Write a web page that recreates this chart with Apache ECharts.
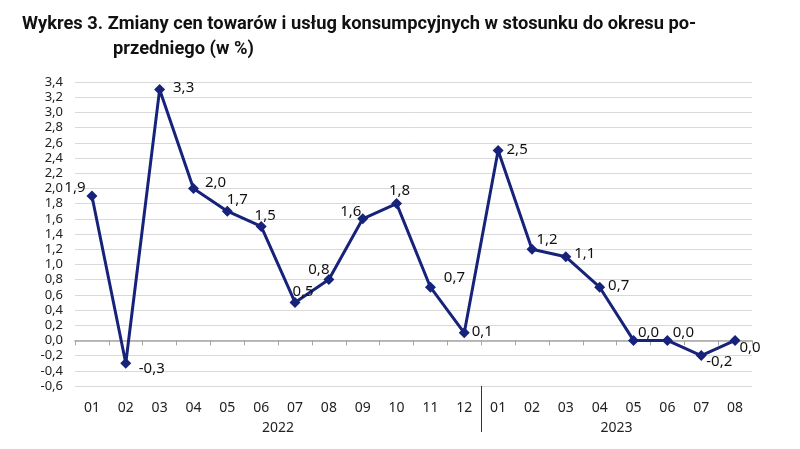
<!DOCTYPE html>
<html>
<head>
<meta charset="utf-8">
<script src="https://cdn.jsdelivr.net/npm/echarts@6/dist/echarts.min.js"></script>
<style>
html,body{margin:0;padding:0;background:#fff;}
#c{width:800px;height:449px;}
</style>
</head>
<body>
<div id="c"></div>
<script>
var months = ['01','02','03','04','05','06','07','08','09','10','11','12','01','02','03','04','05','06','07','08'];
var years = ['2022','2023'];
var yearCounts = [12, 8];
var values = [1.9,-0.3,3.3,2.0,1.7,1.5,0.5,0.8,1.6,1.8,0.7,0.1,2.5,1.2,1.1,0.7,0.0,0.0,-0.2,0.0];
var titleLine1 = 'Wykres 3. Zmiany cen towarów i usług konsumpcyjnych w stosunku do okresu po-';
var titleLine2 = 'przedniego (w %)';

var labelOffsets = [[-17,-8],[26,6],[24,-2],[22,-6],[10,-11],[4,-11],[8,-11],[-10,-10],[-12,-7],[3,-13],
  [24,-9],[18,-1],[19,-1],[15,-9],[19,-3],[19,-1],[15,-8],[16,-8],[18,6],[15,7]];

function fmt(v){ return v.toFixed(1).replace('.', ','); }

var chart = echarts.init(document.getElementById('c'), null, {renderer:'canvas'});
var dataItems = values.map(function(v,i){
  return {value:v, label:{offset:labelOffsets[i]}};
});
var titleStyle = {fontFamily:"'Roboto',sans-serif", fontWeight:'bold', fontSize:18.3, color:'#111'};
var option = {
  animation:false,
  backgroundColor:'#fff',
  title:[
    {text:titleLine1, left:17, top:10, textStyle:titleStyle},
    {text:titleLine2, left:108, top:35, textStyle:titleStyle}
  ],
  grid:{left:75, right:48, top:82, bottom:63},
  xAxis:[
    {type:'category', data:months, boundaryGap:true, position:'bottom',
     axisLine:{show:false, onZero:false}, axisTick:{show:false}, splitLine:{show:false},
     axisLabel:{color:'#222', fontSize:14, fontFamily:"'Noto Sans',sans-serif", margin:15}},
    {type:'category', data:months, boundaryGap:true, position:'bottom',
     axisLine:{show:true, onZero:true, lineStyle:{color:'#a6a6a6', width:1.5}},
     axisTick:{show:true, inside:false, length:5, alignWithLabel:false, lineStyle:{color:'#a6a6a6'}},
     axisLabel:{show:false}, splitLine:{show:false}}
  ],
  yAxis:{type:'value', min:-0.6, max:3.4, interval:0.2,
    axisLine:{show:false}, axisTick:{show:false},
    splitLine:{lineStyle:{color:'#d9d9d9', width:1}},
    axisLabel:{color:'#222', fontSize:13, fontFamily:"'Noto Sans',sans-serif", margin:12, formatter:fmt}},
  series:[{
    type:'line', xAxisIndex:0, data:dataItems,
    symbol:'diamond', symbolSize:11,
    lineStyle:{color:'#17237a', width:3},
    itemStyle:{color:'#17237a'},
    label:{show:true, position:'inside', color:'#111', fontSize:15, fontFamily:"'Noto Sans',sans-serif",
      formatter:function(p){return fmt(p.value);}}
  }]
};
chart.setOption(option);

var yBottom = chart.convertToPixel({yAxisIndex:0}, -0.6);
var graphics = [];
var start = 0;
for (var k=0;k<years.length;k++){
  var a = chart.convertToPixel({xAxisIndex:0}, start);
  var b = chart.convertToPixel({xAxisIndex:0}, start+yearCounts[k]-1);
  var cx = (a+b)/2;
  graphics.push({type:'text', x:cx, y:yBottom+35, style:{text:years[k], fill:'#222', font:"14px 'Noto Sans',sans-serif", align:'center'}});
  start += yearCounts[k];
}
var p11 = chart.convertToPixel({xAxisIndex:0}, 11);
var p12 = chart.convertToPixel({xAxisIndex:0}, 12);
var sx = Math.round((p11+p12)/2)+0.5;
graphics.push({type:'line', shape:{x1:sx, y1:yBottom, x2:sx, y2:yBottom+46}, style:{stroke:'#333', lineWidth:1}});
chart.setOption({graphic:graphics});
</script>
</body>
</html>
